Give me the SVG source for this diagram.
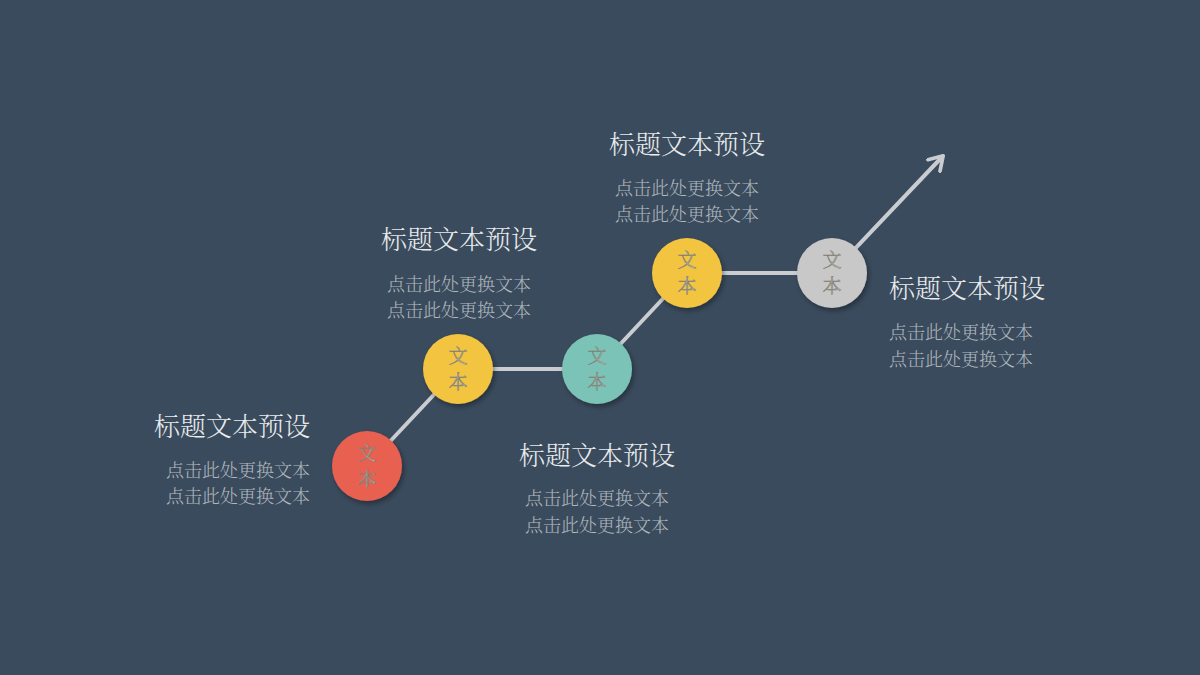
<svg xmlns="http://www.w3.org/2000/svg" width="1200" height="675" viewBox="0 0 1200 675">
<defs>
<filter id="sh" x="-30%" y="-30%" width="170%" height="170%">
<feDropShadow dx="2" dy="3" stdDeviation="2.5" flood-color="#000" flood-opacity="0.35"/>
</filter>
<marker id="arr" viewBox="0 0 12 12" refX="8" refY="6" markerWidth="5" markerHeight="5" orient="auto" markerUnits="strokeWidth">
<path d="M1,1 L9,6 L1,11" fill="none" stroke="#c9cdd1" stroke-width="2.2" stroke-linecap="round" stroke-linejoin="round"/>
</marker>
<style>
.title{font-family:"Noto Serif CJK SC","Noto Sans CJK SC",serif;font-size:26px;fill:#e8eaec;font-weight:300}
.sub{font-family:"Noto Serif CJK SC","Noto Sans CJK SC",serif;font-size:18px;fill:#b0b7be;font-weight:300}
.cir{stroke:none;filter:url(#sh)}
.ct{font-family:"Noto Serif CJK SC","Noto Sans CJK SC",serif;font-size:19px;text-anchor:middle;fill:#b4b4ac;stroke:#7d7d72;stroke-width:0.5;font-weight:300}
.ln{stroke:#c9cdd1;stroke-width:4;fill:none;stroke-linecap:round}
</style>
</defs>
<rect width="1200" height="675" fill="#3a4b5d"/>
<g id="connectors">
<line class="ln" x1="367" y1="466" x2="458" y2="369"/>
<line class="ln" x1="458" y1="369" x2="597" y2="369"/>
<line class="ln" x1="597" y1="369" x2="687" y2="273"/>
<line class="ln" x1="687" y1="273" x2="832" y2="273"/>
<line class="ln" x1="832" y1="273" x2="942" y2="157" marker-end="url(#arr)"/>
</g>
<g id="node1">
<circle class="cir" cx="367" cy="466" r="35" fill="#e8604f"/>
<text class="ct" x="367" y="460">文</text>
<text class="ct" x="367" y="486">本</text>
<text class="title" x="310" y="436" text-anchor="end">标题文本预设</text>
<text class="sub" x="310" y="477" text-anchor="end">点击此处更换文本</text>
<text class="sub" x="310" y="503" text-anchor="end">点击此处更换文本</text>
</g>
<g id="node2">
<circle class="cir" cx="458" cy="369" r="35" fill="#f2c440"/>
<text class="ct" x="458" y="363">文</text>
<text class="ct" x="458" y="389">本</text>
<text class="title" x="459" y="249" text-anchor="middle">标题文本预设</text>
<text class="sub" x="459" y="291" text-anchor="middle">点击此处更换文本</text>
<text class="sub" x="459" y="317" text-anchor="middle">点击此处更换文本</text>
</g>
<g id="node3">
<circle class="cir" cx="597" cy="369" r="35" fill="#7cc3b7"/>
<text class="ct" x="597" y="363">文</text>
<text class="ct" x="597" y="389">本</text>
<text class="title" x="597" y="465" text-anchor="middle">标题文本预设</text>
<text class="sub" x="597" y="505" text-anchor="middle">点击此处更换文本</text>
<text class="sub" x="597" y="532" text-anchor="middle">点击此处更换文本</text>
</g>
<g id="node4">
<circle class="cir" cx="687" cy="273" r="35" fill="#f2c440"/>
<text class="ct" x="687" y="267">文</text>
<text class="ct" x="687" y="293">本</text>
<text class="title" x="687" y="154" text-anchor="middle">标题文本预设</text>
<text class="sub" x="687" y="195" text-anchor="middle">点击此处更换文本</text>
<text class="sub" x="687" y="221" text-anchor="middle">点击此处更换文本</text>
</g>
<g id="node5">
<circle class="cir" cx="832" cy="273" r="35" fill="#c8c8c8"/>
<text class="ct" x="832" y="267">文</text>
<text class="ct" x="832" y="293">本</text>
<text class="title" x="889" y="298">标题文本预设</text>
<text class="sub" x="889" y="339">点击此处更换文本</text>
<text class="sub" x="889" y="366">点击此处更换文本</text>
</g>
</svg>
